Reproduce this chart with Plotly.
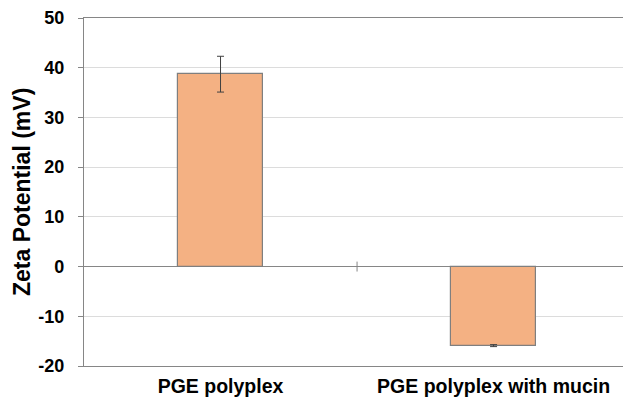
import plotly.graph_objects as go

categories = ["PGE polyplex", "PGE polyplex with mucin"]
values = [38.7, -15.9]
errors = [3.6, 0.2]
y_ticks = [-20, -10, 0, 10, 20, 30, 40, 50]

axis_col = "#868686"
font_fam = "Liberation Sans, Arial, sans-serif"

fig = go.Figure()
fig.add_trace(go.Bar(
    x=[0, 1], y=values,
    width=0.311,
    marker=dict(color="#F4B183", line=dict(color="#7f7f7f", width=1.2)),
    error_y=dict(type="data", array=errors, visible=True, color="#404040",
                 thickness=1, width=3.5),
    showlegend=False,
))

# category boundary tick on the zero axis
fig.add_shape(type="line", xref="x", yref="y", x0=0.5, x1=0.5, y0=-1, y1=1,
              line=dict(color=axis_col, width=1))

fig.add_annotation(
    text="<b>Zeta Potential (mV)</b>", textangle=-90,
    xref="paper", yref="paper", x=-0.115, y=0.5, xanchor="center", yanchor="middle",
    showarrow=False, font=dict(size=23, family=font_fam, color="black"),
)

fig.update_layout(
    width=623, height=398,
    margin=dict(l=84, r=0, t=18, b=32),
    plot_bgcolor="white", paper_bgcolor="white",
    font=dict(family=font_fam, color="black"),
    bargap=0,
)
fig.update_xaxes(
    range=[-0.5, 1.474], automargin=False,
    tickmode="array", tickvals=[0, 1], ticktext=[f"<b>{c}</b>" for c in categories],
    tickfont=dict(size=19.5, family=font_fam, color="black"),
    ticklabelstandoff=2,
    showline=True, linecolor=axis_col, linewidth=1.3, mirror=True,
    showgrid=False, zeroline=False, ticks="",
)
fig.update_yaxes(
    range=[-20, 50], automargin=False,
    tickmode="array", tickvals=y_ticks, ticktext=[f"<b>{v}</b>" for v in y_ticks],
    tickfont=dict(size=18, family=font_fam, color="black"),
    ticks="outside", ticklen=5, tickcolor=axis_col,
    ticklabelstandoff=10,
    showline=True, linecolor=axis_col, linewidth=1.3, mirror=True,
    showgrid=True, gridcolor="#dcdcdc", gridwidth=1,
    zeroline=True, zerolinecolor=axis_col, zerolinewidth=1.3,
)

fig.write_html(
    "out.html",
    config={"displayModeBar": False},
    post_script="document.body.style.margin='0';document.body.style.overflow='hidden';",
)
